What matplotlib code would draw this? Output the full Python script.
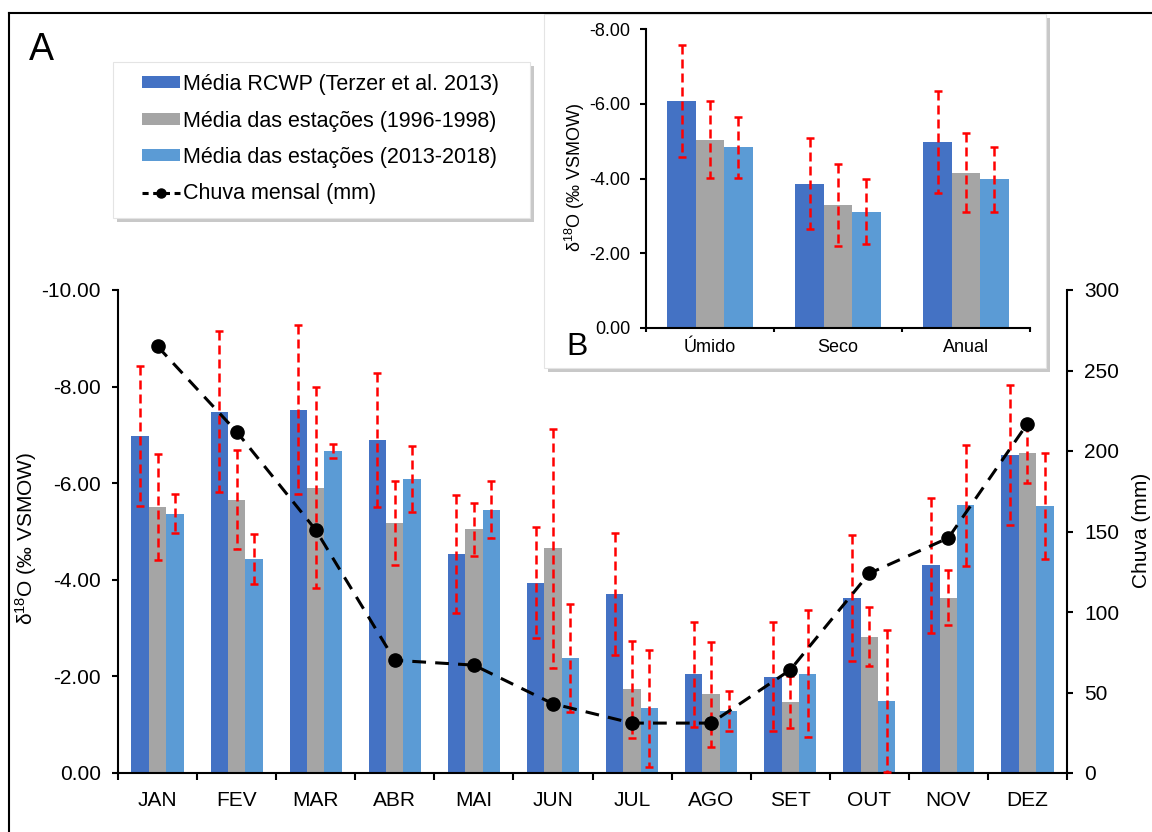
import matplotlib
matplotlib.use("Agg")
import matplotlib.pyplot as plt
from matplotlib.patches import Rectangle, Patch
from matplotlib.lines import Line2D
import numpy as np

plt.rcParams["font.family"] = ["Liberation Sans", "DejaVu Sans"]
plt.rcParams["mathtext.fontset"] = "custom"
plt.rcParams["mathtext.rm"] = "Liberation Sans"
plt.rcParams["mathtext.it"] = "Liberation Sans:italic"

# ── Monthly δ18O means (‰ VSMOW) and 1σ ─────────────────────────────────────
months = ["JAN", "FEV", "MAR", "ABR", "MAI", "JUN",
          "JUL", "AGO", "SET", "OUT", "NOV", "DEZ"]
rcwp = [-6.97, -7.48, -7.52, -6.90, -4.53, -3.94, -3.71, -2.04, -1.99, -3.62, -4.30, -6.59]
rcwp_err = [1.45, 1.67, 1.75, 1.39, 1.22, 1.15, 1.26, 1.08, 1.13, 1.30, 1.40, 1.45]
est_9698 = [-5.50, -5.66, -5.91, -5.18, -5.05, -4.65, -1.73, -1.63, -1.47, -2.82, -3.63, -6.63]
est_9698_err = [1.10, 1.02, 2.09, 0.87, 0.55, 2.48, 1.00, 1.09, 0.53, 0.61, 0.57, 0.62]
est_1318 = [-5.37, -4.43, -6.67, -6.09, -5.45, -2.38, -1.34, -1.28, -2.06, -1.49, -5.54, -5.53]
est_1318_err = [0.41, 0.51, 0.14, 0.68, 0.59, 1.11, 1.21, 0.42, 1.31, 1.47, 1.26, 1.10]

# monthly rainfall (mm)
chuva = [265, 212, 151, 70, 67, 43, 31, 31, 64, 124, 146, 217]

# ── Seasonal / annual means ──────────────────────────────────────────────────
periods = ["Úmido", "Seco", "Anual"]
b_rcwp = [-6.08, -3.86, -4.98]
b_rcwp_err = [1.50, 1.22, 1.36]
b_9698 = [-5.04, -3.29, -4.16]
b_9698_err = [1.03, 1.09, 1.05]
b_1318 = [-4.84, -3.12, -3.98]
b_1318_err = [0.81, 0.88, 0.86]

C_RCWP = "#4472C4"
C_9698 = "#A5A5A5"
C_1318 = "#5B9BD5"
C_ERR = "#FF0000"

W, H = 1152, 832


def fx(x):
    return x / W


def fy(y):
    return 1 - y / H


def fmt2(v, _):
    return f"{v + 0:.2f}"


def err_bars(ax, x, y, e):
    eb = ax.errorbar(x, y, yerr=e, fmt="none", ecolor=C_ERR, elinewidth=1.8,
                     capsize=2.6, capthick=1.8, zorder=3)
    for lc in eb[2]:
        lc.set_linestyle((0, (3.6, 2.0)))


def grouped_bars(ax, series, width):
    x = np.arange(len(series[0][0]))
    for k, (vals, errs, color) in enumerate(series):
        xs = x + (k - 1) * width
        ax.bar(xs, vals, width=width, color=color, linewidth=0, zorder=2)
        err_bars(ax, xs, vals, errs)


def style_spines(ax, keep):
    for name, sp in ax.spines.items():
        sp.set_visible(name in keep)
        sp.set_linewidth(1.5)
        sp.set_color("black")


def shadow_box(x0, y0, x1, y1, z=2):
    sh = Rectangle((fx(x0 + 4), fy(y1 + 4)), fx(x1 - x0), (y1 - y0) / H,
                   transform=fig.transFigure, facecolor="#c8c8c8",
                   edgecolor="none", zorder=z)
    bx = Rectangle((fx(x0), fy(y1)), fx(x1 - x0), (y1 - y0) / H,
                   transform=fig.transFigure, facecolor="white",
                   edgecolor="#e4e4e4", linewidth=0.8, zorder=z)
    fig.add_artist(sh)
    fig.add_artist(bx)


fig = plt.figure(figsize=(W / 100, H / 100), dpi=100)
fig.patch.set_facecolor("white")

# ── Panel A: monthly bars + rainfall ─────────────────────────────────────────
ax1 = fig.add_axes([fx(118), fy(773), fx(1067 - 118), (773 - 290) / H])
ax1.set_zorder(0)
grouped_bars(ax1, [(rcwp, rcwp_err, C_RCWP),
                   (est_9698, est_9698_err, C_9698),
                   (est_1318, est_1318_err, C_1318)], 0.22)
ax1.set_xlim(-0.5, 11.5)
ax1.set_ylim(0, -10)
ax1.set_yticks([0, -2, -4, -6, -8, -10])
ax1.yaxis.set_major_formatter(plt.FuncFormatter(fmt2))
ax1.set_xticks(np.arange(12))
ax1.set_xticklabels(months)
ax1.set_xticks(np.arange(-0.5, 12, 1), minor=True)
ax1.tick_params(axis="x", which="major", length=0, pad=13, labelsize=15)
ax1.tick_params(axis="x", which="minor", length=5, width=1.5, direction="out")
ax1.tick_params(axis="y", length=4.3, width=1.5, pad=8, labelsize=15)
style_spines(ax1, ["left", "bottom"])
ax1.set_ylabel(r"δ$^{18}$O (‰ VSMOW)", fontsize=15, va="center")
ax1.yaxis.set_label_coords(-0.097, 0.485)

ax2 = ax1.twinx()
ax2.plot(np.arange(12), chuva, color="black", linewidth=2.2,
         linestyle=(0, (4.5, 3)), marker="o", markersize=9.5, zorder=4)
ax2.set_ylim(0, 300)
ax2.set_yticks(np.arange(0, 301, 50))
ax2.tick_params(axis="y", length=4.3, width=1.5, pad=8, labelsize=15)
style_spines(ax2, ["right"])
ax2.set_ylabel("Chuva (mm)", fontsize=15, va="center")
ax2.yaxis.set_label_coords(1.079, 0.503)

# legend panel
shadow_box(113, 62, 530, 218)
handles = [
    Patch(facecolor=C_RCWP, edgecolor="none"),
    Patch(facecolor=C_9698, edgecolor="none"),
    Patch(facecolor=C_1318, edgecolor="none"),
    Line2D([], [], color="black", linewidth=2.2, linestyle=(0, (2, 1.5)),
           marker="o", markersize=6.5),
]
labels = ["Média RCWP (Terzer et al. 2013)",
          "Média das estações (1996-1998)",
          "Média das estações (2013-2018)",
          "Chuva mensal (mm)"]
leg = fig.legend(handles, labels, loc="upper left",
                 bbox_to_anchor=(fx(142), fy(74)), frameon=False,
                 borderpad=0, borderaxespad=0, fontsize=15.5,
                 handlelength=1.77, handleheight=0.47, handletextpad=0.14,
                 labelspacing=0.72)
leg.set_zorder(5)

# ── Panel B: seasonal inset ──────────────────────────────────────────────────
shadow_box(544, 14, 1046, 368)
ax3 = fig.add_axes([fx(646), fy(328), fx(1030 - 646), (328 - 29.3) / H])
ax3.set_zorder(3)
grouped_bars(ax3, [(b_rcwp, b_rcwp_err, C_RCWP),
                   (b_9698, b_9698_err, C_9698),
                   (b_1318, b_1318_err, C_1318)], 0.222)
ax3.set_xlim(-0.5, 2.5)
ax3.set_ylim(0, -8)
ax3.set_yticks([0, -2, -4, -6, -8])
ax3.yaxis.set_major_formatter(plt.FuncFormatter(fmt2))
ax3.set_xticks(np.arange(3))
ax3.set_xticklabels(periods)
ax3.set_xticks(np.arange(-0.5, 3, 1), minor=True)
ax3.tick_params(axis="x", which="major", length=0, pad=8, labelsize=13)
ax3.tick_params(axis="x", which="minor", length=3, width=1.5, direction="out")
ax3.tick_params(axis="y", length=4.3, width=1.5, pad=7, labelsize=13)
style_spines(ax3, ["left", "bottom"])
ax3.set_ylabel(r"δ$^{18}$O (‰ VSMOW)", fontsize=13, va="center")
ax3.yaxis.set_label_coords(-0.184, 0.505)

# panel letters
fig.text(fx(29), fy(60), "A", fontsize=27, ha="left", va="baseline")
fig.text(fx(566), fy(355), "B", fontsize=23, ha="left", va="baseline", zorder=4)

# outer frame (runs off the right and bottom edges)
fig.add_artist(Line2D([fx(9), fx(9)], [fy(12.7), 0], color="black",
                      linewidth=1.5, transform=fig.transFigure, zorder=6))
fig.add_artist(Line2D([fx(9), 1], [fy(12.7), fy(12.7)], color="black",
                      linewidth=1.5, transform=fig.transFigure, zorder=6))

fig.savefig("out.png", dpi=100, facecolor="white")
